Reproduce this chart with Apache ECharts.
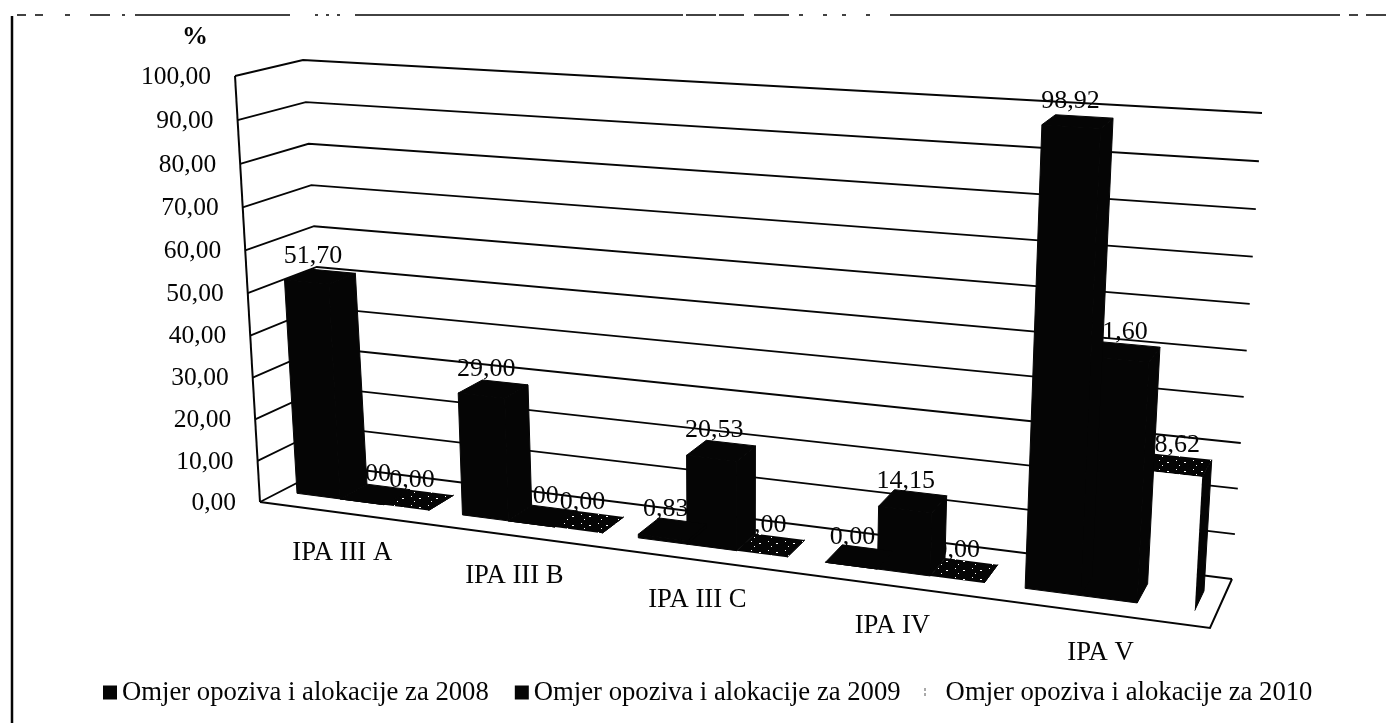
<!DOCTYPE html>
<html>
<head>
<meta charset="utf-8">
<title>Omjer opoziva i alokacije</title>
<script src="https://cdn.jsdelivr.net/npm/echarts@6/dist/echarts.min.js"></script>
<style>
	html, body { margin: 0; padding: 0; background: #fff; }
	#main { width: 1386px; height: 723px; }
</style>
</head>
<body>
<div id="main"></div>
<script>
	var categories = ['IPA III A', 'IPA III B', 'IPA III C', 'IPA IV', 'IPA V'];
	var values2008 = [51.70, 29.00, 0.83, 0.00, 98.92];
	var values2009 = [0.00, 0.00, 20.53, 14.15, 51.60];
	var values2010 = [0.00, 0.00, 0.00, 0.00, 28.62];
	var valueTicks = [0, 10, 20, 30, 40, 50, 60, 70, 80, 90, 100];
	var seriesNames = [
		'Omjer opoziva i alokacije za 2008',
		'Omjer opoziva i alokacije za 2009',
		'Omjer opoziva i alokacije za 2010'
	];

	var fontName = '"Liberation Serif", serif';
	var ink = '#050505';

	// the box of the 3D chart as it sits on the page (f/b = front/back, l/r, 0/1 = floor/top)
	var box = {
		fl0: [260, 502], fr0: [1210, 628], bl0: [330, 466], br0: [1232, 579],
		fl1: [235, 76], fr1: [1237, 140], bl1: [303, 60], br1: [1262, 113]
	};
	var perspective = 1.172;
	var perspectiveUp = 1.04;
	var barFront = 0.3, barBack = 0.7;

	function mix(a, b, t) {
		return [a[0] + (b[0] - a[0]) * t, a[1] + (b[1] - a[1]) * t];
	}

	// s: along the categories, w: depth, v: height, all 0..1
	function project(s, w, v) {
		var u = s / (perspective - (perspective - 1) * s);
		var h = v / (perspectiveUp - (perspectiveUp - 1) * v);
		var floor = mix(mix(box.fl0, box.fr0, u), mix(box.bl0, box.br0, u), w);
		var top = mix(mix(box.fl1, box.fr1, u), mix(box.bl1, box.br1, u), w);
		return mix(floor, top, h);
	}

	function fmt(val) {
		return val.toFixed(2).replace('.', ',');
	}

	// the dark top of the 2010 bars, with the few white specks of the scan
	function speckle() {
		var c = document.createElement('canvas');
		c.width = 17;
		c.height = 9;
		var g = c.getContext('2d');
		g.fillStyle = ink;
		g.fillRect(0, 0, 17, 9);
		g.fillStyle = '#fff';
		g.fillRect(3, 1, 1, 1);
		g.fillRect(11, 3, 2, 1);
		g.fillRect(6, 6, 1, 1);
		return { image: c, repeat: 'repeat' };
	}
	var speckled = speckle();

	function face(points, fill, edged) {
		return {
			type: 'polygon',
			shape: { points: points },
			style: { fill: fill, stroke: edged ? ink : null, lineWidth: edged ? 1 : 0 }
		};
	}

	function barRenderer(k, frontFill, topFill) {
		return function (params, api) {
			var i = api.value(0);
			var val = api.value(1);
			var cs = params.coordSys;
			var p = api.coord([i, val]);
			var band = api.size([1, 0])[0];
			var bw = band * 0.8 / 3;
			var left = p[0] - band * 0.4 + k * bw;
			var s0 = (left - cs.x) / cs.width;
			var s1 = (left + bw - cs.x) / cs.width;
			var v = (cs.y + cs.height - p[1]) / cs.height;
			var a = project(s0, barFront, 0), b = project(s1, barFront, 0), c = project(s1, barBack, 0);
			var d = project(s0, barFront, v), e = project(s1, barFront, v);
			var f = project(s1, barBack, v), g = project(s0, barBack, v);
			var mid = project((s0 + s1) / 2, 0.5, v);
			var solid = frontFill === ink;
			return {
				type: 'group',
				children: [
					face([b, c, f, e], ink, true),
					face([d, e, f, g], topFill, solid),
					face([a, b, e, d], frontFill, solid),
					{
						type: 'text',
						style: {
							text: fmt(val),
							x: mid[0] - 7,
							y: mid[1] - 20,
							align: 'center',
							verticalAlign: 'middle',
							font: '26px ' + fontName,
							fill: ink
						}
					}
				]
			};
		};
	}

	function line(points, width) {
		return {
			type: 'polyline',
			shape: { points: points },
			style: { fill: null, stroke: ink, lineWidth: width }
		};
	}

	function renderWall(params, api) {
		var cs = params.coordSys;
		var y = api.coord([0, api.value(1)])[1];
		var v = (cs.y + cs.height - y) / cs.height;
		var children = [line([project(0, 0, v), project(0, 1, v), project(1, 1, v)], 1.8)];
		if (v === 0) {
			children.push(line([project(0, 0, 0), project(0, 0, 1)], 2));
			children.push(line([project(0, 0, 0), project(1, 0, 0), project(1, 1, 0)], 2));
		}
		return { type: 'group', children: children };
	}

	function renderCategory(params, api) {
		var cs = params.coordSys;
		var p = api.coord([api.value(0), 0]);
		var q = project((p[0] - cs.x) / cs.width, 0, 0);
		return {
			type: 'text',
			style: {
				text: categories[api.value(0)],
				x: q[0],
				y: q[1] + 40,
				align: 'center',
				verticalAlign: 'middle',
				font: '26.7px ' + fontName,
				fill: ink
			}
		};
	}

	function pairs(list) {
		return list.map(function (val, i) { return [i, val]; });
	}

	// tick labels lean with the front edge of the left wall
	var richTicks = {};
	valueTicks.forEach(function (t) {
		var q = project(0, 0, t / 100);
		var drop = q[1] - (box.fl0[1] - (box.fl0[1] - box.fl1[1]) * t / 100) + 1;
		richTicks['t' + t] = {
			padding: [drop * 2, box.fl0[0] - q[0] + 24, 0, 0],
			fontFamily: fontName,
			fontSize: 25.5,
			color: ink
		};
	});

	var chart = echarts.init(document.getElementById('main'));
	chart.setOption({
		animation: false,
		backgroundColor: '#fff',
		textStyle: { fontFamily: fontName },
		grid: { left: 260, right: 176, top: 76, bottom: 221 },
		xAxis: { type: 'category', data: categories, show: false },
		yAxis: {
			type: 'value',
			min: 0,
			max: 100,
			interval: 10,
			axisLine: { show: false },
			axisTick: { show: false },
			splitLine: { show: false },
			axisLabel: {
				margin: 0,
				rich: richTicks,
				formatter: function (val) { return '{t' + val + '|' + fmt(val) + '}'; }
			}
		},
		legend: {
			data: seriesNames,
			left: 103,
			top: 679,
			padding: 0,
			itemGap: 26,
			itemWidth: 14,
			itemHeight: 14,
			icon: 'rect',
			textStyle: { fontFamily: fontName, fontSize: 26.7, color: ink }
		},
		graphic: [
			{ type: 'line', silent: true, shape: { x1: 12, y1: 16, x2: 12, y2: 723 }, style: { stroke: ink, lineWidth: 2.5 } },
			{
				type: 'line',
				silent: true,
				shape: { x1: 17, y1: 15, x2: 1386, y2: 15 },
				style: {
					stroke: ink,
					lineWidth: 1.5,
					lineDash: [9, 9, 8, 22, 5, 20, 20, 12, 3, 10, 155, 25, 3, 8, 3, 8, 3, 15, 328, 3, 30, 3, 25, 10, 35, 10, 4, 20, 4, 15, 4, 20, 4, 20, 450]
				}
			},
			{
				type: 'text',
				silent: true,
				style: { text: '%', x: 195, y: 37, align: 'center', verticalAlign: 'middle', font: 'bold 26px ' + fontName, fill: ink }
			},
			{
				type: 'polyline',
				silent: true,
				shape: { points: [[925, 696], [925, 688], [929, 688]] },
				style: { fill: null, stroke: '#555', lineWidth: 1, lineDash: [3, 2] }
			}
		],
		series: [
			{ type: 'custom', name: 'walls', z: 1, renderItem: renderWall, data: valueTicks.map(function (t) { return [0, t]; }) },
			{ type: 'custom', name: seriesNames[0], z: 5, itemStyle: { color: ink }, renderItem: barRenderer(0, ink, ink), data: pairs(values2008) },
			{ type: 'custom', name: seriesNames[1], z: 4, itemStyle: { color: ink }, renderItem: barRenderer(1, ink, ink), data: pairs(values2009) },
			{ type: 'custom', name: seriesNames[2], z: 3, itemStyle: { color: '#fff' }, renderItem: barRenderer(2, '#fff', speckled), data: pairs(values2010) },
			{ type: 'custom', name: 'categories', z: 2, renderItem: renderCategory, data: categories.map(function (c, i) { return [i]; }) }
		]
	});
</script>
</body>
</html>
